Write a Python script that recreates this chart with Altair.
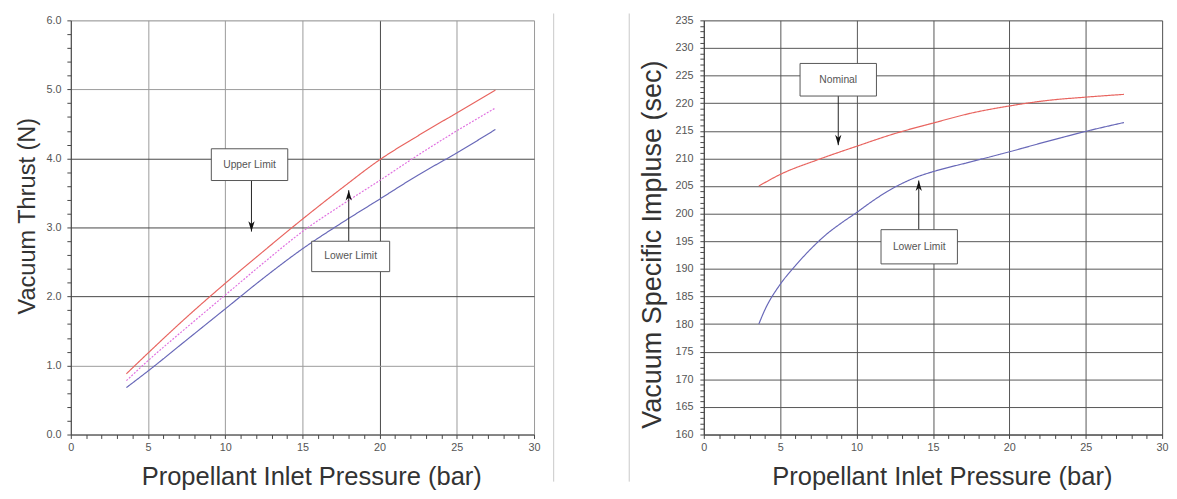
import altair as alt
import pandas as pd

# ---------------- data: left panel (Vacuum Thrust) ----------------
thrust_pressure = [3.6, 5.0, 7.5, 10.0, 12.5, 15.0, 17.5, 20.0, 22.5, 25.0, 27.5]
thrust_upper    = [0.88, 1.18, 1.70, 2.19, 2.66, 3.12, 3.56, 3.98, 4.33, 4.66, 4.99]
thrust_nominal  = [0.78, 1.07, 1.55, 2.02, 2.49, 2.94, 3.32, 3.68, 4.05, 4.40, 4.73]
thrust_lower    = [0.68, 0.92, 1.37, 1.82, 2.27, 2.69, 3.06, 3.41, 3.76, 4.08, 4.42]

# ---------------- data: right panel (Vacuum Specific Impulse) ----------------
isp_pressure_nominal = [3.6, 5.0, 7.5, 10.0, 12.5, 15.0, 17.5, 20.0, 22.5, 25.0, 27.5]
isp_nominal          = [205.0, 207.1, 209.8, 212.2, 214.5, 216.4, 218.2, 219.5, 220.5, 221.1, 221.6]
isp_pressure_lower = [3.6, 4.0, 5.0, 6.0, 7.0, 8.0, 9.0, 10.0, 11.0, 12.0, 13.0, 14.0, 15.0,
                      17.5, 20.0, 22.5, 25.0, 27.5]
isp_lower          = [180.0, 182.6, 187.2, 190.6, 193.6, 196.2, 198.3, 200.2, 202.2, 204.0, 205.5,
                      206.7, 207.6, 209.4, 211.2, 213.1, 214.9, 216.5]

# ---------------- tick values ----------------
pressure_ticks = list(range(0, 31))
thrust_ticks = [round(i * 0.2, 1) for i in range(0, 31)]
isp_ticks = list(range(160, 236))

# ---------------- annotations (data units) ----------------
left_labels = ["Upper Limit", "Lower Limit"]
left_box_x0 = [9.1, 15.6]
left_box_x1 = [14.05, 20.65]
left_box_y0 = [3.68, 2.36]
left_box_y1 = [4.14, 2.80]
left_arrow_x = [11.7, 18.0]
left_arrow_from = [3.68, 2.80]
left_arrow_to = [2.94, 3.54]
left_arrow_dir = ["down", "up"]

right_labels = ["Nominal", "Lower Limit"]
right_box_x0 = [6.3, 11.6]
right_box_x1 = [11.3, 16.6]
right_box_y0 = [221.3, 190.9]
right_box_y1 = [227.2, 197.1]
right_arrow_x = [8.8, 14.07]
right_arrow_from = [221.3, 197.1]
right_arrow_to = [212.4, 206.0]
right_arrow_dir = ["down", "up"]

FONT = "Liberation Sans"
DOWN = "M0,0 L-0.3,-1 L0,-0.72 L0.3,-1 Z"
UP = "M0,0 L-0.3,1 L0,0.72 L0.3,1 Z"
LEFT_W, RIGHT_W, PANEL_H = 472, 467, 422


def long_df(xs_list, ys_list, names):
    rows = []
    for xs, ys, n in zip(xs_list, ys_list, names):
        for x, y in zip(xs, ys):
            rows.append({"p": x, "v": y, "series": n})
    return pd.DataFrame(rows)


def ann_df(labels, x0, x1, y0, y1, ax, af, at, d):
    return pd.DataFrame({
        "label": labels, "x0": x0, "x1": x1, "y0": y0, "y1": y1,
        "tx": [(a + b) / 2 for a, b in zip(x0, x1)],
        "ty": [(a + b) / 2 for a, b in zip(y0, y1)],
        "ax": ax, "af": af, "at": at, "dir": d,
    })


def x_axis(dark_test, dark, light, w):
    return alt.Axis(
        values=pressure_ticks,
        labelExpr="datum.value % 5 === 0 ? datum.label : ''",
        format="d",
        grid=True,
        gridOpacity={"condition": {"test": "datum.value % 5 === 0", "value": 1}, "value": 0},
        gridColor={"condition": {"test": dark_test, "value": dark}, "value": light},
        gridWidth=1,
        tickSize=4, tickColor="#444", domainColor="#444",
        labelPadding=3, labelFontSize=11, labelColor="#555", labelFont=FONT,
        labelOverlap=False, labelFlush=False,
        title="Propellant Inlet Pressure (bar)", titleFontSize=26, titleFont=FONT,
        titleFontWeight="normal", titleColor="#333", titlePadding=12,
        titleX=w / 2 + 9,
    )


def make_panel(lines, ann, ydomain, yaxis, xaxis, colors, dashes, extra=None, w=472, h=422):
    xs = alt.Scale(domain=[0, 30], nice=False, zero=False)
    ys = alt.Scale(domain=ydomain, nice=False, zero=False)

    def X(f):
        return alt.X(f, type="quantitative", scale=xs, axis=xaxis)

    def Y(f):
        return alt.Y(f, type="quantitative", scale=ys, axis=yaxis)

    names = list(colors.keys())
    line_layer = alt.Chart(lines).mark_line(strokeWidth=1.2, clip=True, interpolate="monotone").encode(
        x=X("p"), y=Y("v"),
        color=alt.Color("series:N", scale=alt.Scale(domain=names, range=list(colors.values())), legend=None),
        strokeDash=alt.StrokeDash("series:N", scale=alt.Scale(domain=names, range=[dashes[n] for n in names]), legend=None),
    )
    rule_layer = alt.Chart(ann).mark_rule(color="#222", strokeWidth=1).encode(
        x=X("ax"), y=Y("af"), y2="at"
    )
    head_layer = alt.Chart(ann).mark_point(filled=True, color="#111", opacity=1, size=450).encode(
        x=X("ax"), y=Y("at"),
        shape=alt.Shape("dir:N", scale=alt.Scale(domain=["down", "up"], range=[DOWN, UP]), legend=None),
    )
    box_layer = alt.Chart(ann).mark_rect(fill="white", stroke="#555", strokeWidth=1).encode(
        x=X("x0"), x2="x1", y=Y("y0"), y2="y1"
    )
    text_layer = alt.Chart(ann).mark_text(fontSize=10.5, color="#555", font=FONT).encode(
        x=X("tx"), y=Y("ty"), text="label:N"
    )
    layers = [line_layer, rule_layer, head_layer, box_layer, text_layer]
    if extra is not None:
        layers.extend(extra)
    return alt.layer(*layers).properties(width=w, height=h)


# ---------------- left panel ----------------
left_lines = long_df([thrust_pressure] * 3, [thrust_upper, thrust_nominal, thrust_lower],
                     ["Upper", "Nominal", "Lower"])
left_ann = ann_df(left_labels, left_box_x0, left_box_x1, left_box_y0, left_box_y1,
                  left_arrow_x, left_arrow_from, left_arrow_to, left_arrow_dir)
left_yaxis = alt.Axis(
    values=thrust_ticks,
    labelExpr="abs(datum.value - round(datum.value)) < 0.01 ? format(datum.value, '.1f') : ''",
    grid=True,
    gridOpacity={"condition": {"test": "abs(datum.value - round(datum.value)) < 0.01", "value": 1}, "value": 0},
    gridColor={"condition": {"test": "datum.value > 1.9 && datum.value < 4.1", "value": "#444"}, "value": "#9a9a9a"},
    tickSize=4, tickColor="#444", domainColor="#444",
    labelPadding=6, labelFontSize=11, labelColor="#555", labelFont=FONT,
    labelOverlap=False, labelFlush=False,
    title="Vacuum Thrust (N)", titleFontSize=24, titleFont=FONT,
    titleFontWeight="normal", titleColor="#333", titlePadding=7,
    titleY=PANEL_H / 2 - 12,
)
left = make_panel(
    left_lines, left_ann, [0, 6], left_yaxis,
    x_axis("datum.value === 20", "#444", "#9a9a9a", LEFT_W),
    {"Upper": "#e8645f", "Nominal": "#e070e0", "Lower": "#6868b8"},
    {"Upper": [1, 0], "Nominal": [2, 1.5], "Lower": [1, 0]},
    w=LEFT_W, h=PANEL_H,
)

# ---------------- right panel ----------------
right_lines = long_df([isp_pressure_nominal, isp_pressure_lower], [isp_nominal, isp_lower],
                      ["Isp Nominal", "Isp Lower"])
right_ann = ann_df(right_labels, right_box_x0, right_box_x1, right_box_y0, right_box_y1,
                   right_arrow_x, right_arrow_from, right_arrow_to, right_arrow_dir)
right_yaxis = alt.Axis(
    values=isp_ticks,
    labelExpr="datum.value % 5 === 0 ? datum.label : ''",
    format="d",
    grid=True,
    gridOpacity={"condition": {"test": "datum.value % 5 === 0", "value": 1}, "value": 0},
    gridColor="#555",
    tickSize=4, tickColor="#444", domainColor="#444",
    labelPadding=7, labelFontSize=11, labelColor="#555", labelFont=FONT,
    labelOverlap=False, labelFlush=False,
    title="Vacuum Specific Impluse (sec)", titleFontSize=27.5, titleFont=FONT,
    titleFontWeight="normal", titleColor="#333", titlePadding=9,
    titleY=PANEL_H / 2 + 17,
)
dividers = alt.Chart(pd.DataFrame({"k": [0]})).mark_rule(color="#c8c8c8", strokeWidth=1).encode(
    x=alt.value(-153), y=alt.value(-7), y2=alt.value(470)
)
dividers2 = alt.Chart(pd.DataFrame({"k": [0]})).mark_rule(color="#c8c8c8", strokeWidth=1).encode(
    x=alt.value(-76), y=alt.value(-7), y2=alt.value(470)
)
right = make_panel(
    right_lines, right_ann, [160, 235], right_yaxis,
    x_axis("datum.value >= 0", "#555", "#555", RIGHT_W),
    {"Isp Nominal": "#e8645f", "Isp Lower": "#6868b8"},
    {"Isp Nominal": [1, 0], "Isp Lower": [1, 0]},
    extra=[dividers, dividers2],
    w=RIGHT_W, h=PANEL_H,
)

chart = alt.hconcat(left, right, spacing=12).resolve_scale(
    color="independent", strokeDash="independent", shape="independent"
).properties(
    padding={"left": 7, "top": 0, "right": 0, "bottom": 0}
).configure_view(stroke="#888", strokeWidth=1).configure(font=FONT)

chart.save("out.html", embed_options={"renderer": "svg", "actions": False})
